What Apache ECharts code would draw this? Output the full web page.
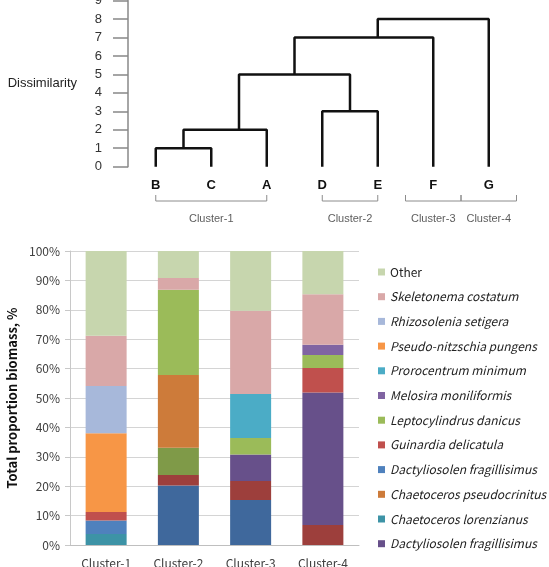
<!DOCTYPE html>
<html>
<head>
<meta charset="utf-8">
<script src="https://cdn.jsdelivr.net/npm/echarts@6/dist/echarts.min.js"></script>
<style>
  html, body { margin: 0; padding: 0; background: #fff; }
  #chart { width: 549px; height: 567px; }
</style>
</head>
<body>
<div id="chart"></div>
<script>
// dendrogram leaves, left to right
const leaves = ['B', 'C', 'A', 'D', 'E', 'F', 'G'];
// each merge: x of left/right child, height the child starts at, merge height
const mergeLeftX = [1, 1.5, 4, 2.5, 3.5, 5];
const mergeRightX = [2, 3, 5, 4.5, 6, 7];
const mergeLeftFrom = [0, 1, 0, 2, 5, 7];
const mergeRightFrom = [0, 0, 0, 3, 0, 0];
const mergeHeight = [1, 2, 3, 5, 7, 8];

// cluster brackets under the leaves
const clusterNames = ['Cluster-1', 'Cluster-2', 'Cluster-3', 'Cluster-4'];
const clusterStart = [1, 4, 5.5, 6.5];
const clusterEnd = [3, 5, 6.5, 7.5];

// stacked bars (%), bottom to top
const unlistedA = [0, 20.2, 15.3, 0];
const unlistedB = [0, 3.6, 6.5, 6.8];
const unlistedC = [0, 9.3, 0, 0];
const dactylioDark = [0, 0, 9.0, 45.1];
const chaetLorenz = [3.7, 0, 0, 0];
const chaetPseudo = [0, 24.7, 0, 0];
const dactylio = [4.6, 0, 0, 0];
const guinardia = [2.9, 0, 0, 8.3];
const leptocyl = [0, 29.0, 5.6, 4.4];
const melosira = [0, 0, 0, 3.5];
const prorocentrum = [0, 0, 15.0, 0];
const pseudoNitz = [26.8, 0, 0, 0];
const rhizosolenia = [16.1, 0, 0, 0];
const skeletonema = [17.1, 4.0, 28.3, 17.2];
const other = [28.8, 9.2, 20.3, 14.7];

const stack = [
  ['Unlisted 1', unlistedA, '#3f689c'],
  ['Unlisted 2', unlistedB, '#9d3f3c'],
  ['Unlisted 3', unlistedC, '#7f9a48'],
  ['Dactyliosolen fragillisimus #2', dactylioDark, '#67508a'],
  ['Chaetoceros lorenzianus', chaetLorenz, '#3d93a6'],
  ['Chaetoceros pseudocrinitus', chaetPseudo, '#cd7b3a'],
  ['Dactyliosolen fragillisimus', dactylio, '#4f81bd'],
  ['Guinardia delicatula', guinardia, '#c0504d'],
  ['Leptocylindrus danicus', leptocyl, '#9bbb59'],
  ['Melosira moniliformis', melosira, '#8064a2'],
  ['Prorocentrum minimum', prorocentrum, '#4bacc6'],
  ['Pseudo-nitzschia pungens', pseudoNitz, '#f79646'],
  ['Rhizosolenia setigera', rhizosolenia, '#a7b8da'],
  ['Skeletonema costatum', skeletonema, '#d9a8a8'],
  ['Other', other, '#c7d6ae']
];
const legendOrder = [
  'Other', 'Skeletonema costatum', 'Rhizosolenia setigera', 'Pseudo-nitzschia pungens',
  'Prorocentrum minimum', 'Melosira moniliformis', 'Leptocylindrus danicus',
  'Guinardia delicatula', 'Dactyliosolen fragillisimus', 'Chaetoceros pseudocrinitus',
  'Chaetoceros lorenzianus', 'Dactyliosolen fragillisimus #2'
];

const FONT = 'Liberation Sans';
const KFONT = 'Noto Sans CJK KR';

const series = [];

// dendrogram links
mergeHeight.forEach((h, i) => {
  series.push({
    type: 'line', xAxisIndex: 0, yAxisIndex: 0, symbol: 'none', clip: false,
    lineStyle: { color: '#111', width: 2.5 },
    data: [
      [mergeLeftX[i], mergeLeftFrom[i]], [mergeLeftX[i], h],
      [mergeRightX[i], h], [mergeRightX[i], mergeRightFrom[i]]
    ]
  });
});

// cluster brackets
clusterNames.forEach((c, i) => {
  series.push({
    type: 'line', xAxisIndex: 2, yAxisIndex: 1, symbol: 'none', clip: false,
    lineStyle: { color: '#8c8c8c', width: 1 },
    data: [[clusterStart[i], 1], [clusterStart[i], 0], [clusterEnd[i], 0], [clusterEnd[i], 1]]
  });
});
series.push({
  type: 'scatter', xAxisIndex: 2, yAxisIndex: 1, symbolSize: 0, silent: true,
  data: clusterNames.map((c, i) => [(clusterStart[i] + clusterEnd[i]) / 2, 0]),
  label: {
    show: true, position: 'bottom', distance: 12,
    formatter: p => clusterNames[p.dataIndex],
    fontFamily: FONT, fontSize: 11, color: '#333'
  }
});

// stacked bars
stack.forEach(([name, values, color]) => {
  series.push({
    type: 'bar', name: name, stack: 'total', xAxisIndex: 3, yAxisIndex: 2,
    barWidth: 41, itemStyle: { color: color }, data: values
  });
});

const option = {
  animation: false,
  grid: [
    { left: 128, right: 32.5, top: 0.6, height: 166.1, outerBoundsMode: 'none' },
    { left: 128, right: 32.5, top: 195, height: 6, outerBoundsMode: 'none' },
    { left: 70, right: 190, top: 251, bottom: 22, outerBoundsMode: 'none' }
  ],
  xAxis: [
    { type: 'value', gridIndex: 0, min: 0.5, max: 7.5, show: false },
    {
      type: 'category', gridIndex: 0, position: 'bottom', data: leaves, boundaryGap: true,
      axisLine: { show: false }, axisTick: { show: false }, splitLine: { show: false },
      axisLabel: { margin: 12, fontFamily: FONT, fontSize: 13, fontWeight: 'bold', color: '#111' }
    },
    { type: 'value', gridIndex: 1, min: 0.5, max: 7.5, show: false },
    {
      type: 'category', gridIndex: 2, data: clusterNames,
      axisLine: { lineStyle: { color: '#bfbfbf' } }, axisTick: { show: false },
      axisLabel: { margin: 12, fontFamily: KFONT, fontSize: 12, color: '#404040' }
    }
  ],
  yAxis: [
    {
      type: 'value', gridIndex: 0, min: 0, max: 9, interval: 1,
      name: 'Dissimilarity', nameLocation: 'middle', nameRotate: 0, nameGap: 51,
      nameTextStyle: { fontFamily: FONT, fontSize: 13, color: '#222', align: 'right' },
      axisLine: { show: true, lineStyle: { color: '#888', width: 1.5 } },
      axisTick: { show: true, length: 15, lineStyle: { color: '#888', width: 1.5 } },
      axisLabel: { margin: 26, fontFamily: FONT, fontSize: 13, color: '#333' },
      splitLine: { show: false }
    },
    { type: 'value', gridIndex: 1, min: 0, max: 1, show: false },
    {
      type: 'value', gridIndex: 2, min: 0, max: 100, interval: 10,
      name: 'Total proportion biomass, %', nameLocation: 'middle', nameGap: 43,
      nameTextStyle: { fontFamily: KFONT, fontSize: 13, fontWeight: 'bold', color: '#111' },
      axisLine: { show: true, lineStyle: { color: '#c8c8c8' } },
      axisTick: { show: true, length: 5, lineStyle: { color: '#c8c8c8' } },
      axisLabel: { margin: 10, formatter: '{value}%', fontFamily: KFONT, fontSize: 12, color: '#404040' },
      splitLine: { lineStyle: { color: '#d4d4d4' } }
    }
  ],
  legend: {
    orient: 'vertical', left: 378, top: 266, padding: 0,
    itemWidth: 7, itemHeight: 7, itemGap: 12.7,
    icon: 'rect',
    data: legendOrder.map(n => ({
      name: n,
      textStyle: { fontStyle: n === 'Other' ? 'normal' : 'italic' }
    })),
    formatter: n => n.replace(' #2', ''),
    textStyle: { fontFamily: KFONT, fontSize: 12, color: '#222' }
  },
  series: series
};

const chart = echarts.init(document.getElementById('chart'), null, { renderer: 'canvas' });
chart.setOption(option);
</script>
</body>
</html>
